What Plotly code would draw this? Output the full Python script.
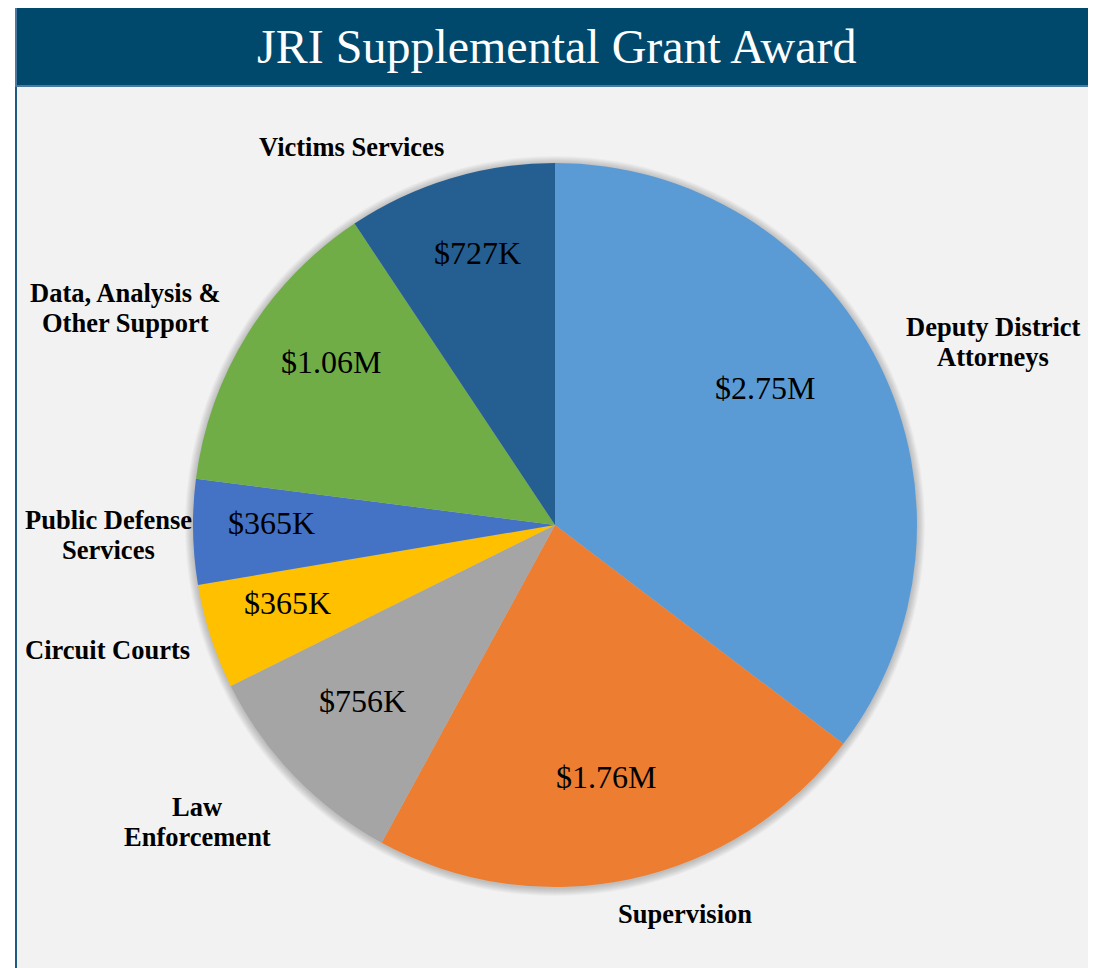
import plotly.graph_objects as go

# ---- data ----
categories = ["Deputy District Attorneys", "Supervision", "Law Enforcement",
              "Circuit Courts", "Public Defense Services",
              "Data, Analysis & Other Support", "Victims Services"]
values = [2.75, 1.76, 0.756, 0.365, 0.365, 1.06, 0.727]  # $ millions
value_labels = ["$2.75M", "$1.76M", "$756K", "$365K", "$365K", "$1.06M", "$727K"]
colors = ["#5b9bd5", "#ed7d31", "#a5a5a5", "#ffc000", "#4472c4", "#70ad47", "#255e91"]

# category label lines and positions (pixels)
cat_lines = [["Deputy District", "Attorneys"], ["Supervision"], ["Law", "Enforcement"],
             ["Circuit Courts"], ["Public Defense", "Services"],
             ["Data, Analysis &", "Other Support"], ["Victims Services"]]
cat_pos = [(993, 327), (685, 914), (197, 807), (107, 650), (108, 520), (125, 293), (351, 147)]
val_pos = [(765, 388), (606, 777), (362, 701), (287, 603), (271, 523), (331, 362), (477, 253)]

W, H = 1096, 968
OFF = 8  # page body margin
CX, CY, R = 555, 525, 362


def px(x):
    return (x - OFF) / W


def py(y):
    return 1 - (y - OFF) / H


fig = go.Figure()
fig.add_trace(go.Pie(
    labels=categories, values=values, sort=False, direction="clockwise",
    rotation=0, marker=dict(colors=colors, line=dict(width=0)),
    textinfo="none", hoverinfo="label+value", showlegend=False,
    domain=dict(x=[px(CX - R), px(CX + R)], y=[py(CY + R), py(CY - R)]),
))

shapes = []
# gray panel
shapes.append(dict(type="rect", xref="paper", yref="paper", layer="below",
                   x0=px(16), x1=px(1093), y0=py(990), y1=py(86),
                   fillcolor="#f2f2f2", line=dict(color="#1f5a85", width=2)))
# banner
shapes.append(dict(type="rect", xref="paper", yref="paper", layer="below",
                   x0=px(16), x1=px(1093), y0=py(86), y1=py(5),
                   fillcolor="#00496d", line=dict(color="#4a78a0", width=2)))
# soft shadow around pie
for i in range(8, 0, -1):
    rr = R + i
    shapes.append(dict(type="circle", xref="paper", yref="paper", layer="below",
                       x0=px(CX - rr), x1=px(CX + rr), y0=py(CY + rr + 1), y1=py(CY - rr + 1),
                       fillcolor="rgba(0,0,0,0.028)", line=dict(width=0)))

annotations = [dict(text="JRI Supplemental Grant Award", xref="paper", yref="paper",
                    x=px(556), y=py(46), showarrow=False, xanchor="center", yanchor="middle",
                    font=dict(family="Liberation Serif", size=48, color="white"))]

for lines, (x, y) in zip(cat_lines, cat_pos):
    for j, line in enumerate(lines):
        annotations.append(dict(text="<b>" + line + "</b>", xref="paper", yref="paper",
                                x=px(x), y=py(y + 30 * j), showarrow=False,
                                xanchor="center", yanchor="middle",
                                font=dict(family="Liberation Serif", size=26.5, color="black")))

for lab, (x, y) in zip(value_labels, val_pos):
    annotations.append(dict(text=lab, xref="paper", yref="paper", x=px(x), y=py(y),
                            showarrow=False, xanchor="center", yanchor="middle",
                            font=dict(family="Liberation Serif", size=32, color="black")))

fig.update_layout(width=W, height=H, margin=dict(l=0, r=0, t=0, b=0),
                  paper_bgcolor="white", plot_bgcolor="white",
                  shapes=shapes, annotations=annotations)
fig.write_html("out.html")
